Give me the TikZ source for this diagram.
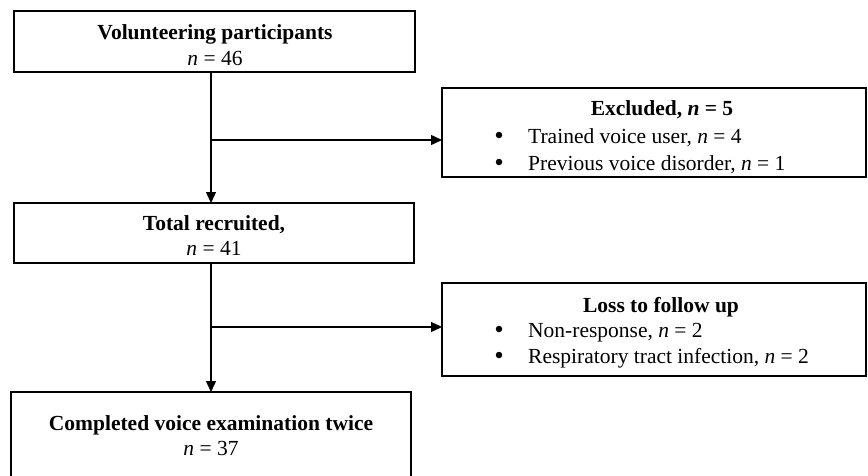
\documentclass[tikz,border=0pt]{standalone}
\usepackage{fontspec}
\setmainfont{Liberation Serif}
\usetikzlibrary{arrows.meta}
\begin{document}
\begin{tikzpicture}[x=1pt,y=-1pt,
  box/.style={draw, line width=1.2pt, inner sep=0pt, outer sep=0pt, anchor=north west},
  txt/.style={anchor=base, inner sep=0pt, font=\fontsize{21.5}{25}\selectfont},
  ltxt/.style={txt, anchor=base west},
  bul/.style={circle, fill, inner sep=0pt, minimum size=6.5pt},
  ln/.style={line width=1.4pt},
  arr/.style={ln, -{Triangle[length=11pt,width=10pt]}}]
\useasboundingbox (0,0) rectangle (868,475);
\clip (0,0) rectangle (868,475);
% boxes
\node[box, minimum width=401pt, minimum height=61pt] (b1) at (14,11) {};
\node[box, minimum width=424pt, minimum height=89pt] (ex) at (442,88) {};
\node[box, minimum width=400pt, minimum height=60pt] (b2) at (14,203) {};
\node[box, minimum width=424pt, minimum height=93pt] (loss) at (442,283) {};
\node[box, minimum width=400pt, minimum height=95pt] (b3) at (11,392) {};
% texts
\node[txt] (t1a) at (215,39) {\textbf{Volunteering participants}};
\node[txt] (t1b) at (215,65) {\textit{n} = 46};
\node[txt] (exa) at (662,115) {\textbf{Excluded, \textit{n} = 5}};
\node[bul] (exb1) at (499,135) {};
\node[ltxt] (exb) at (528,143) {Trained voice user, \textit{n} = 4};
\node[bul] (exc1) at (499,162) {};
\node[ltxt] (exc) at (528,170) {Previous voice disorder, \textit{n} = 1};
\node[txt] (t2a) at (214,230) {\textbf{Total recruited,}};
\node[txt] (t2b) at (214,255) {\textit{n} = 41};
\node[txt] (la) at (661,312) {\textbf{Loss to follow up}};
\node[bul] (lb1) at (499,329) {};
\node[ltxt] (lb) at (528,337) {Non-response, \textit{n} = 2};
\node[bul] (lc1) at (499,355) {};
\node[ltxt] (lc) at (528,363) {Respiratory tract infection, \textit{n} = 2};
\node[txt] (t3a) at (211,430) {\textbf{Completed voice examination twice}};
\node[txt] (t3b) at (211,455) {\textit{n} = 37};
% connectors
\coordinate (j1) at (211,140);
\coordinate (j2) at (211,327);
\draw[ln] (b1.south -| j1) -- (j1);
\draw[arr] (j1) -- (b2.north -| j1);
\draw[arr] (j1) -- (ex.west |- j1);
\draw[ln] (b2.south -| j2) -- (j2);
\draw[arr] (j2) -- (b3.north -| j2);
\draw[arr] (j2) -- (loss.west |- j2);
\end{tikzpicture}
\end{document}
